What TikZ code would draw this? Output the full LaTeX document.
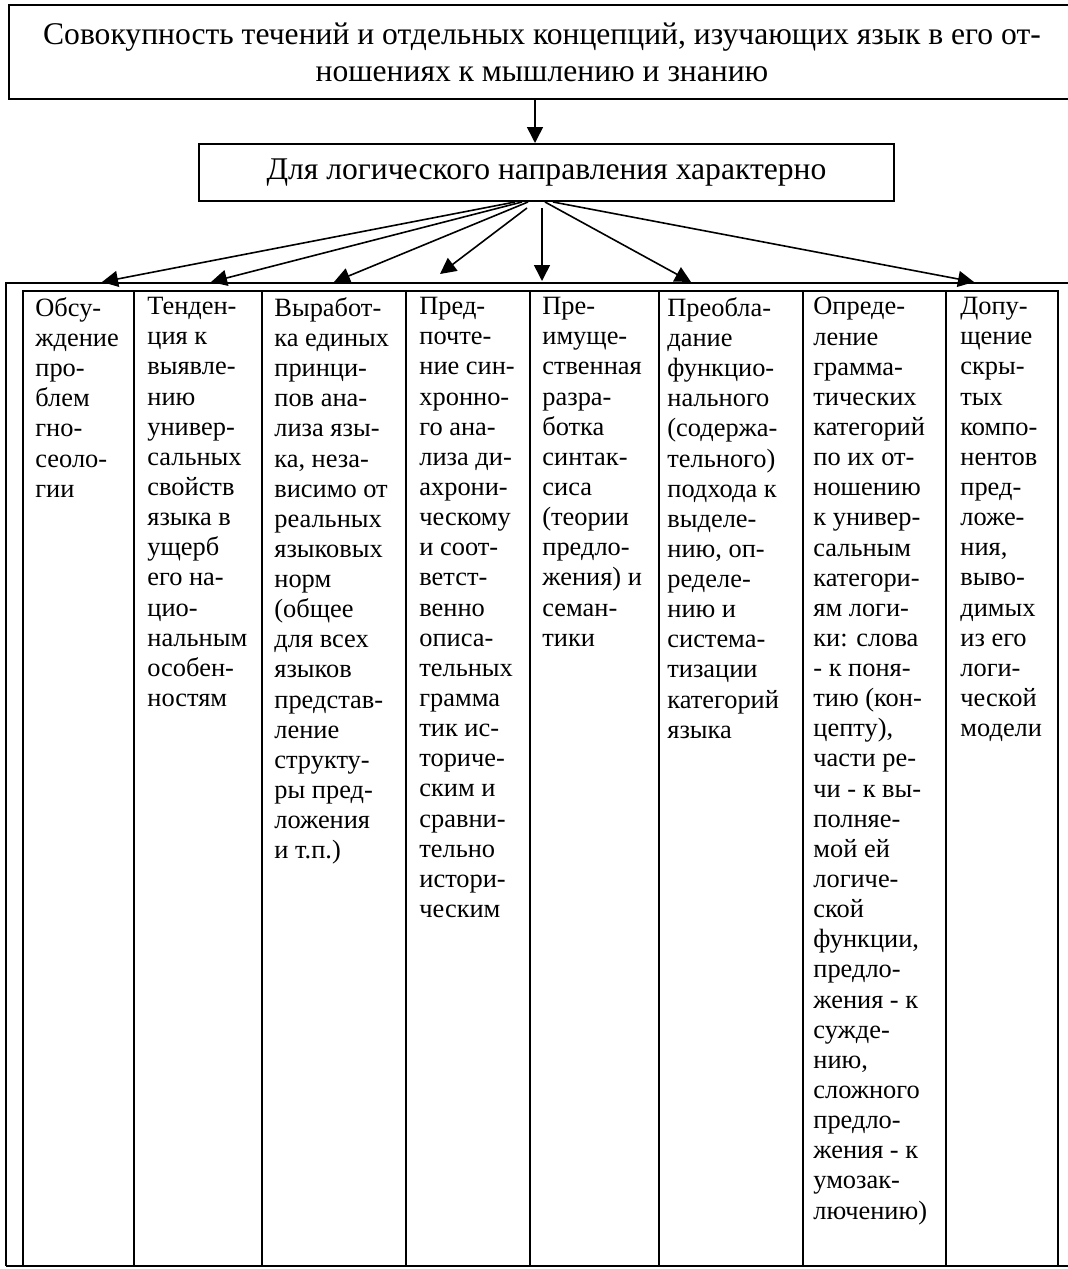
\documentclass[tikz,border=0pt]{standalone}
\usepackage{fontspec}
\setmainfont{Liberation Serif}
\usetikzlibrary{arrows.meta}
\tikzset{
  box/.style={draw, line width=1pt, inner sep=0pt, align=center,
    font=\fontsize{15.8}{18.5}\selectfont},
  arr/.style={line width=0.8pt, -{Triangle[length=8pt,width=8pt]}},
  divider/.style={line width=0.7pt},
  coltext/.style={anchor=north west, align=left, inner sep=0pt,
    font=\fontsize{13.2}{15.07}\selectfont, execute at begin node=\strut}
}
\begin{document}
\begin{tikzpicture}[x=0.5pt, y=-0.5pt]
        \clip (0,0) rectangle (1068,1269);
        \node[box, minimum width=533pt, minimum height=47pt] (whole) at (542,52)
          {Совокупность течений и отдельных концепций, изучающих язык в его от-\\
           ношениях к мышлению и знанию};
        \node[box, minimum width=347.5pt, minimum height=28.5pt] (logic) at (546.5,172.5)
          {Для логического направления характерно};
        \draw[arr] ([xshift=-3.5pt]whole.south) -- ([xshift=-5.75pt]logic.north);

        \draw[line width=1pt] (6,1266) -- (6,283) -- (1080,283);
        \draw[divider] (23,1266) -- (23,291) -- (1058,291) -- (1058,1266);
        \draw[line width=1pt] (6,1266) -- (1080,1266);
        \draw[divider] (134,291) -- (134,1266);
        \draw[divider] (262,291) -- (262,1266);
        \draw[divider] (406,291) -- (406,1266);
        \draw[divider] (530,291) -- (530,1266);
        \draw[divider] (659,291) -- (659,1266);
        \draw[divider] (803,291) -- (803,1266);
        \draw[divider] (946,291) -- (946,1266);

        \coordinate (t1) at (102,282);
        \coordinate (t2) at (211,282);
        \coordinate (t3) at (334,282);
        \coordinate (t4) at (440,274);
        \coordinate (t5) at (542,281);
        \coordinate (t6) at (691,282);
        \coordinate (t7) at (974,282);
        \draw[arr] ([xshift=-15.75pt]logic.south) -- (t1);
        \draw[arr] ([xshift=-12.25pt]logic.south) -- (t2);
        \draw[arr] ([xshift=-9.25pt]logic.south) -- (t3);
        \draw[arr] ([xshift=-9.75pt,yshift=-3pt]logic.south) -- (t4);
        \draw[arr] ([xshift=-2.25pt,yshift=-3pt]logic.south) -- (t5);
        \draw[arr] ([xshift=-0.75pt]logic.south) -- (t6);
        \draw[arr] ([xshift=3.25pt]logic.south) -- (t7);

        \node[coltext] (c1) at (35,297) {Обсу-\\ждение\\про-\\блем\\гно-\\сеоло-\\гии};
        \node[coltext] (c2) at (147,297) {Тенден-\\ция к\\выявле-\\нию\\универ-\\сальных\\свойств\\языка в\\ущерб\\его на-\\цио-\\нальным\\особен-\\ностям};
        \node[coltext] (c3) at (274,297) {Выработ-\\ка единых\\принци-\\пов ана-\\лиза язы-\\ка, неза-\\висимо от\\реальных\\языковых\\норм\\(общее\\для всех\\языков\\представ-\\ление\\структу-\\ры пред-\\ложения\\и т.п.)};
        \node[coltext] (c4) at (419,297) {Пред-\\почте-\\ние син-\\хронно-\\го ана-\\лиза ди-\\ахрони-\\ческому\\и соот-\\ветст-\\венно\\описа-\\тельных\\грамма\\тик ис-\\ториче-\\ским и\\сравни-\\тельно\\истори-\\ческим};
        \node[coltext] (c5) at (542,297) {Пре-\\имуще-\\ственная\\разра-\\ботка\\синтак-\\сиса\\(теории\\предло-\\жения) и\\семан-\\тики};
        \node[coltext] (c6) at (667,297) {Преобла-\\дание\\функцио-\\нального\\(содержа-\\тельного)\\подхода к\\выделе-\\нию, оп-\\ределе-\\нию и\\система-\\тизации\\категорий\\языка};
        \node[coltext] (c7) at (813,297) {Опреде-\\ление\\грамма-\\тических\\категорий\\по их от-\\ношению\\к универ-\\сальным\\категори-\\ям логи-\\ки: слова\\- к поня-\\тию (кон-\\цепту),\\части ре-\\чи - к вы-\\полняе-\\мой ей\\логиче-\\ской\\функции,\\предло-\\жения - к\\сужде-\\нию,\\сложного\\предло-\\жения - к\\умозак-\\лючению)};
        \node[coltext] (c8) at (960,297) {Допу-\\щение\\скры-\\тых\\компо-\\нентов\\пред-\\ложе-\\ния,\\выво-\\димых\\из его\\логи-\\ческой\\модели};
      \end{tikzpicture}
\end{document}
